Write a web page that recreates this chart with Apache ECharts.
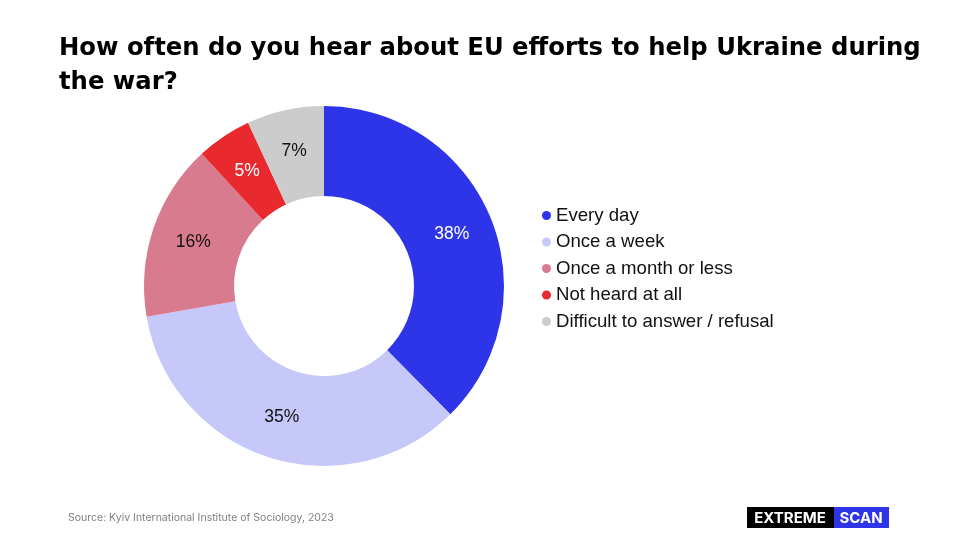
<!DOCTYPE html>
<html>
<head>
<meta charset="utf-8">
<script src="https://cdn.jsdelivr.net/npm/echarts@6/dist/echarts.min.js"></script>
<style>
html, body { margin: 0; padding: 0; background: #fff; }
#main { width: 960px; height: 540px; }
</style>
</head>
<body>
<div id="main"></div>
<script>
var categories = ['Every day', 'Once a week', 'Once a month or less', 'Not heard at all', 'Difficult to answer / refusal'];
var shares = [38, 35, 16, 5, 7];
var colors = ['#2E35E8', '#C5C8F8', '#D97B8F', '#E8292D', '#CCCCCC'];
var labelColors = ['#ffffff', '#111111', '#111111', '#ffffff', '#111111'];

var pieData = [];
for (var i = 0; i < categories.length; i++) {
    pieData.push({
        name: categories[i],
        value: shares[i],
        itemStyle: {color: colors[i]},
        label: {color: labelColors[i]}
    });
}

var chart = echarts.init(document.getElementById('main'));
chart.setOption({
    backgroundColor: '#ffffff',
    animation: false,
    title: {
        text: 'How often do you hear about EU efforts to help Ukraine during\nthe war?',
        left: 59,
        top: 32,
        padding: 0,
        textStyle: {
            fontFamily: 'DejaVu Sans',
            fontWeight: 'bold',
            fontSize: 24.3,
            lineHeight: 34,
            color: '#000'
        }
    },
    legend: {
        orient: 'vertical',
        left: 537,
        top: 201,
        icon: 'circle',
        itemWidth: 9,
        itemHeight: 9,
        itemGap: 7.5,
        textStyle: {
            fontFamily: 'Liberation Sans',
            fontSize: 18.6,
            color: '#111'
        },
        data: categories
    },
    series: [{
        type: 'pie',
        center: [324, 286],
        radius: [90, 180],
        startAngle: 90,
        clockwise: true,
        label: {
            position: 'inside',
            formatter: '{c}%',
            fontFamily: 'Liberation Sans',
            fontSize: 17.5
        },
        labelLine: {show: false},
        emphasis: {disabled: true},
        data: pieData
    }],
    graphic: [
        {
            type: 'text',
            left: 68,
            top: 512,
            style: {
                text: 'Source: Kyiv International Institute of Sociology, 2023',
                fontFamily: 'Inter',
                fontSize: 10.5,
                fill: '#808080'
            }
        },
        {
            type: 'rect',
            shape: {x: 747, y: 507, width: 87, height: 21},
            style: {fill: '#000'}
        },
        {
            type: 'rect',
            shape: {x: 834, y: 507, width: 55, height: 21},
            style: {fill: '#2E35E8'}
        },
        {
            type: 'text',
            x: 790, y: 518,
            style: {
                text: 'EXTREME', fill: '#fff', fontFamily: 'Inter', fontWeight: 'bold',
                fontSize: 15, align: 'center', verticalAlign: 'middle'
            }
        },
        {
            type: 'text',
            x: 861, y: 518,
            style: {
                text: 'SCAN', fill: '#fff', fontFamily: 'Inter', fontWeight: 'bold',
                fontSize: 15, align: 'center', verticalAlign: 'middle'
            }
        }
    ]
});
</script>
</body>
</html>
